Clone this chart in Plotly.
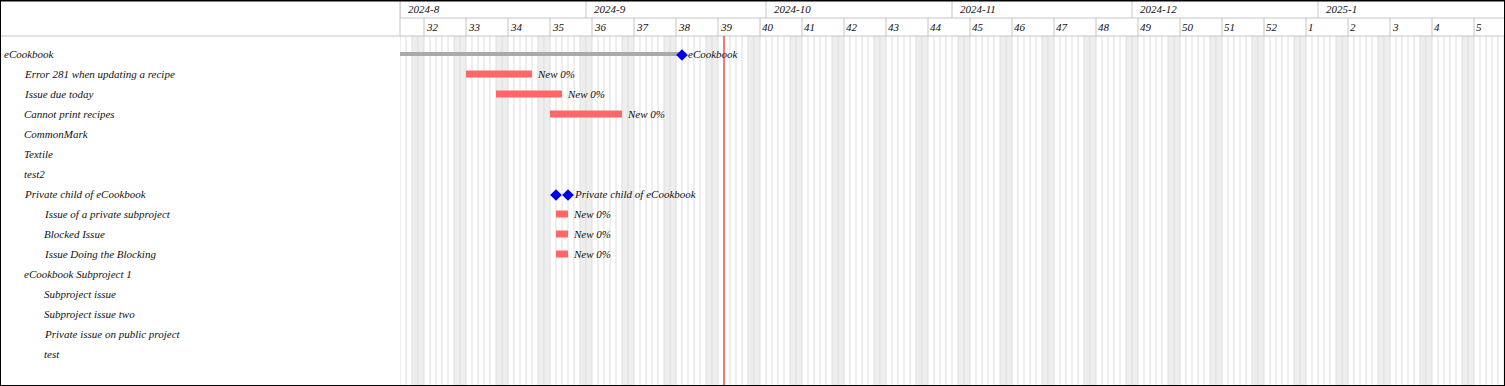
import datetime as dt
import plotly.graph_objects as go

# ---------------- data ----------------
chart_start = dt.date(2024, 8, 1)
month_labels = ["2024-8", "2024-9", "2024-10", "2024-11", "2024-12", "2025-1"]
month_starts = ["2024-08-01", "2024-09-01", "2024-10-01", "2024-11-01", "2024-12-01", "2025-01-01"]
week_numbers = [32, 33, 34, 35, 36, 37, 38, 39, 40, 41, 42, 43, 44, 45, 46, 47, 48, 49, 50, 51, 52, 1, 2, 3, 4, 5]
first_week_start = dt.date(2024, 8, 5)
today = "2024-09-24"

row_labels = [
    "eCookbook",
    "Error 281 when updating a recipe",
    "Issue due today",
    "Cannot print recipes",
    "CommonMark",
    "Textile",
    "test2",
    "Private child of eCookbook",
    "Issue of a private subproject",
    "Blocked Issue",
    "Issue Doing the Blocking",
    "eCookbook Subproject 1",
    "Subproject issue",
    "Subproject issue two",
    "Private issue on public project",
    "test",
]
row_levels = [0, 1, 1, 1, 1, 1, 1, 1, 2, 2, 2, 1, 2, 2, 2, 2]

issue_rows = ["Error 281 when updating a recipe", "Issue due today", "Cannot print recipes",
              "Issue of a private subproject", "Blocked Issue", "Issue Doing the Blocking"]
issue_start = ["2024-08-12", "2024-08-17", "2024-08-26", "2024-08-27", "2024-08-27", "2024-08-27"]
issue_due = ["2024-08-22", "2024-08-27", "2024-09-06", "2024-08-28", "2024-08-28", "2024-08-28"]
issue_status = ["New 0%", "New 0%", "New 0%", "New 0%", "New 0%", "New 0%"]

project_rows = ["eCookbook", "Private child of eCookbook"]
project_start = ["2024-07-10", "2024-08-27"]
project_due = ["2024-09-16", "2024-08-28"]

# ---------------- layout constants ----------------
W, H = 1505, 386
LEFT = 400
HEADER = 36
ROW_H = 20
FIRST_ROW = 54
DAY_PX = 6
FONT = "Liberation Serif"
TXT = "#111111"

def d(s):
    return dt.date.fromisoformat(s)

def ms(days):
    return days * 86400000

x_end = dt.datetime.combine(chart_start, dt.time()) + dt.timedelta(days=(W - LEFT) / DAY_PX)
n_days = int((W - LEFT) / DAY_PX) + 1
row_index = {lab: i for i, lab in enumerate(row_labels)}

def py(px):  # pixel from top -> paper y
    return 1 - px / H

fig = go.Figure()

# project bars (gray)
fig.add_trace(go.Bar(
    orientation="h",
    y=[row_index[r] for r in project_rows[:1]],
    base=[project_start[0]],
    x=[ms((d(project_due[0]) - d(project_start[0])).days + 1)],
    width=0.2, marker=dict(color="#aaaaaa", line=dict(width=0)),
    hoverinfo="skip", showlegend=False,
))

# issue bars
fig.add_trace(go.Bar(
    orientation="h",
    y=[row_index[r] for r in issue_rows],
    base=issue_start,
    x=[ms((d(e) - d(s)).days + 1) for s, e in zip(issue_start, issue_due)],
    width=0.35, marker=dict(color="#ff6666", line=dict(width=0)),
    hoverinfo="skip", showlegend=False,
))

# project diamonds
dx, dy = [], []
for r, s, e in zip(project_rows, project_start, project_due):
    dx += [s, str(d(e) + dt.timedelta(days=1))]
    dy += [row_index[r] + 0.05, row_index[r] + 0.05]
fig.add_trace(go.Scatter(
    x=dx, y=dy, mode="markers",
    marker=dict(symbol="diamond", size=9, color="#0000ee", line=dict(width=0)),
    hoverinfo="skip", showlegend=False,
))

ann = []
# left labels
for lab, lev in zip(row_labels, row_levels):
    ann.append(dict(xref="paper", yref="y", x=(4 + 20 * lev) / W, y=row_index[lab],
                    text=f"<i>{lab}</i>", showarrow=False, xanchor="left", yanchor="middle",
                    xshift=-2, font=dict(family=FONT, size=11, color=TXT)))
# issue labels
for r, e, stt in zip(issue_rows, issue_due, issue_status):
    ann.append(dict(xref="x", yref="y", x=str(d(e) + dt.timedelta(days=1)), y=row_index[r],
                    text=f"<i>{stt}</i>", showarrow=False, xanchor="left", yanchor="middle",
                    xshift=3, font=dict(family=FONT, size=11, color=TXT)))
# project labels
for r, e in zip(project_rows, project_due):
    ann.append(dict(xref="x", yref="y", x=str(d(e) + dt.timedelta(days=1)), y=row_index[r],
                    text=f"<i>{r}</i>", showarrow=False, xanchor="left", yanchor="middle",
                    xshift=4, font=dict(family=FONT, size=11, color=TXT)))
# month labels
for lab, s in zip(month_labels, month_starts):
    ann.append(dict(xref="x", yref="paper", x=s, y=py(9), text=f"<i>{lab}</i>", showarrow=False,
                    xanchor="left", yanchor="middle", xshift=6,
                    font=dict(family=FONT, size=11, color=TXT)))
# week labels
week_starts = [first_week_start + dt.timedelta(days=7 * i) for i in range(len(week_numbers))]
for wn, ws in zip(week_numbers, week_starts):
    ann.append(dict(xref="x", yref="paper", x=str(ws), y=py(27), text=f"<i>{wn}</i>", showarrow=False,
                    xanchor="left", yanchor="middle", xshift=0,
                    font=dict(family=FONT, size=11, color=TXT)))

shapes = []
# weekends
for i in range(n_days):
    day = chart_start + dt.timedelta(days=i)
    if day.weekday() >= 5:
        shapes.append(dict(type="rect", xref="x", yref="paper", x0=str(day),
                           x1=str(day + dt.timedelta(days=1)), y0=0, y1=py(HEADER),
                           fillcolor="#eeeeee", line=dict(width=0), layer="below"))
# day lines
for i in range(n_days):
    day = chart_start + dt.timedelta(days=i)
    shapes.append(dict(type="line", xref="x", yref="paper", x0=str(day), x1=str(day),
                       y0=0, y1=py(HEADER), line=dict(color="#dddddd", width=1), layer="below"))
# header grid
HG = "#c4c4c4"
for s in month_starts:
    shapes.append(dict(type="line", xref="x", yref="paper", x0=s, x1=s, y0=py(0), y1=py(18),
                       line=dict(color=HG, width=1)))
for ws in week_starts:
    shapes.append(dict(type="line", xref="x", yref="paper", x0=str(ws), x1=str(ws), y0=py(18), y1=py(HEADER),
                       line=dict(color=HG, width=1)))
shapes.append(dict(type="line", xref="paper", yref="paper", x0=LEFT / W, x1=LEFT / W, y0=py(0), y1=py(HEADER),
                   line=dict(color=HG, width=1)))
shapes.append(dict(type="line", xref="paper", yref="paper", x0=LEFT / W, x1=1, y0=py(18), y1=py(18),
                   line=dict(color=HG, width=1)))
shapes.append(dict(type="line", xref="paper", yref="paper", x0=0, x1=1, y0=py(HEADER), y1=py(HEADER),
                   line=dict(color=HG, width=1)))
# today line
shapes.append(dict(type="line", xref="x", yref="paper", x0=today, x1=today, y0=0, y1=py(HEADER),
                   line=dict(color="#ff0000", width=1), layer="above"))
# outer border
shapes.append(dict(type="rect", xref="paper", yref="paper", x0=0, x1=1, y0=0, y1=1,
                   line=dict(color="#000000", width=2)))
shapes.append(dict(type="line", xref="paper", yref="paper", x0=0, x1=1, y0=py(0.5), y1=py(0.5),
                   line=dict(color="#000000", width=2)))

fig.update_layout(
    width=W, height=H,
    margin=dict(l=0, r=0, t=0, b=0),
    paper_bgcolor="white", plot_bgcolor="white",
    barmode="overlay",
    xaxis=dict(type="date", range=[str(chart_start), x_end.isoformat()], domain=[LEFT / W, 1],
               visible=False, fixedrange=True),
    yaxis=dict(range=[(H - FIRST_ROW) / ROW_H, (0 - FIRST_ROW) / ROW_H], domain=[0, 1],
               visible=False, fixedrange=True),
    annotations=ann, shapes=shapes,
    font=dict(family=FONT, size=11, color=TXT),
)

fig.write_html(
    "out.html",
    config={"displayModeBar": False},
    post_script="document.body.style.margin='0';document.body.style.overflow='hidden';",
)
